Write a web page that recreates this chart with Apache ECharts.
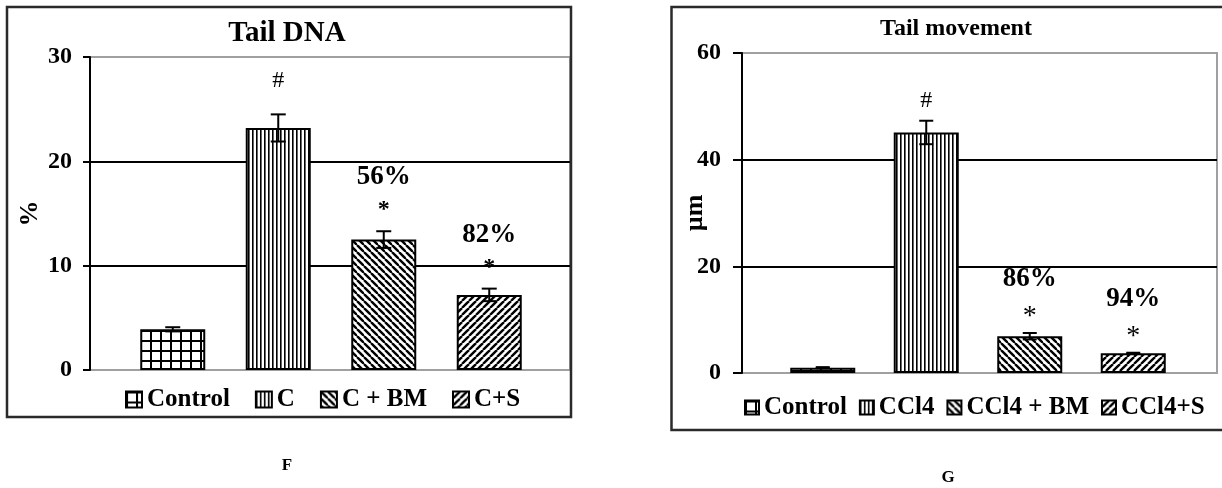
<!DOCTYPE html>
<html>
<head>
<meta charset="utf-8">
<script src="https://cdn.jsdelivr.net/npm/echarts@6/dist/echarts.min.js"></script>
<style>
  html, body { margin: 0; padding: 0; background: #fff; }
  #chart { width: 1222px; height: 488px; }
</style>
</head>
<body>
<div id="chart"></div>
<script>
// Comet assay results: tail DNA (%) and tail movement (µm), mean ± error

// Panel F: tail DNA
const dnaGroups = ['Control', 'C', 'C + BM', 'C+S'];
const dnaMeans = [3.9, 23.2, 12.5, 7.2];
const dnaErrors = [0.2, 1.3, 0.8, 0.6];
const dnaMarks = ['', '#', '*', '*'];
const dnaReduction = ['', '', '56%', '82%'];
const dnaTicks = [0, 10, 20, 30];

// Panel G: tail movement
const moveGroups = ['Control', 'CCl4', 'CCl4 + BM', 'CCl4+S'];
const moveMeans = [1.0, 45.1, 6.9, 3.7];
const moveErrors = [0.1, 2.2, 0.6, 0.1];
const moveMarks = ['', '#', '*', '*'];
const moveReduction = ['', '', '86%', '94%'];
const moveTicks = [0, 20, 40, 60];

const SERIF = '"Liberation Serif", "Times New Roman", serif';

// Hatch fills built on small tiles
function tile(w, h, draw) {
  const c = document.createElement('canvas');
  c.width = w; c.height = h;
  const g = c.getContext('2d');
  g.fillStyle = '#fff'; g.fillRect(0, 0, w, h);
  g.fillStyle = '#000'; g.strokeStyle = '#000';
  draw(g, w, h);
  return { image: c, repeat: 'repeat' };
}
const patGrid = tile(10, 10, g => { g.fillRect(0, 0, 10, 2); g.fillRect(0, 0, 2, 10); });
const patVert = tile(4, 4, g => { g.fillRect(0, 0, 1.6, 4); });
const patBack = tile(7, 7, g => {
  g.lineWidth = 2.4;
  [-7, 0, 7].forEach(o => { g.beginPath(); g.moveTo(o, 0); g.lineTo(o + 7, 7); g.stroke(); });
});
const patFwd = tile(7, 7, g => {
  g.lineWidth = 2.4;
  [-7, 0, 7].forEach(o => { g.beginPath(); g.moveTo(o, 7); g.lineTo(o + 7, 0); g.stroke(); });
});
const patterns = [patGrid, patVert, patBack, patFwd];

function barSeries(names, means, axisIdx) {
  return names.map((n, i) => ({
    type: 'bar', name: n, xAxisIndex: axisIdx, yAxisIndex: axisIdx,
    data: means.map((v, j) => (j === i ? v : '-')),
    barWidth: 65, barGap: '-100%',
    itemStyle: { color: patterns[i], borderColor: '#000', borderWidth: 2 },
    silent: true
  }));
}

function errorSeries(means, errors, marks, reductions, axisIdx, cfg) {
  return {
    type: 'custom', xAxisIndex: axisIdx, yAxisIndex: axisIdx, z: 5, silent: true,
    data: means.map((m, i) => [i, m, errors[i]]),
    renderItem(params, api) {
      const i = api.value(0), m = api.value(1), e = api.value(2);
      const top = api.coord([i, m + e]);
      const bot = api.coord([i, m - e]);
      const x = top[0], hw = cfg.cap / 2;
      const ln = (x1, y1, x2, y2) => ({
        type: 'line', shape: { x1, y1, x2, y2 }, style: { stroke: '#000', lineWidth: 2 }
      });
      const children = [
        ln(x, top[1], x, bot[1]),
        ln(x - hw, top[1], x + hw, top[1]),
        ln(x - hw, bot[1], x + hw, bot[1])
      ];
      const mk = marks[params.dataIndex];
      if (mk) {
        const isHash = mk === '#';
        children.push({
          type: 'text',
          style: {
            text: mk, x, y: top[1] - (isHash ? cfg.hash : cfg.star),
            align: 'center', verticalAlign: 'middle', fill: '#000',
            font: (isHash ? cfg.hashFont : cfg.starFont) + ' ' + SERIF
          }
        });
      }
      const rd = reductions[params.dataIndex];
      if (rd) {
        children.push({
          type: 'text',
          style: {
            text: rd, x, y: top[1] - cfg.pct,
            align: 'center', verticalAlign: 'middle', fill: '#000',
            font: 'bold 27px ' + SERIF
          }
        });
      }
      return { type: 'group', children };
    }
  };
}

function valueAxis(gridIndex, ticks, visible, name, nameGap, labelMargin, tickLen) {
  const base = {
    type: 'value', gridIndex,
    min: ticks[0], max: ticks[ticks.length - 1], interval: ticks[1] - ticks[0]
  };
  if (!visible) return Object.assign(base, { show: false, splitLine: { show: false } });
  return Object.assign(base, {
    name, nameLocation: 'middle', nameGap, nameRotate: 90, nameMoveOverlap: false,
    nameTextStyle: { fontFamily: SERIF, fontWeight: 'bold', fontSize: 26, color: '#000' },
    axisLine: { show: true, lineStyle: { color: '#000', width: 2 } },
    axisTick: { show: true, length: tickLen, lineStyle: { color: '#000', width: 2 } },
    axisLabel: { margin: labelMargin, fontFamily: SERIF, fontWeight: 'bold', fontSize: 24, color: '#000' },
    splitLine: { show: true, lineStyle: { color: ['#a0a0a0', '#000', '#000', '#a0a0a0'], width: 2 } }
  });
}

function catAxis(gridIndex, cats) {
  return { type: 'category', gridIndex, data: cats, show: false };
}

const legendText = { fontFamily: SERIF, fontWeight: 'bold', fontSize: 25, color: '#000' };

const option = {
  animation: false,
  backgroundColor: '#fff',
  grid: [
    { left: 90, top: 57, width: 480, height: 313, show: true, borderColor: '#a0a0a0', borderWidth: 2 },
    { left: 120, top: 57, width: 422, height: 313 },
    { left: 742, top: 53, width: 475, height: 320, show: true, borderColor: '#a0a0a0', borderWidth: 2 },
    { left: 771, top: 53, width: 414, height: 320 }
  ],
  xAxis: [
    catAxis(0, dnaGroups), catAxis(1, dnaGroups),
    catAxis(2, moveGroups), catAxis(3, moveGroups)
  ],
  yAxis: [
    valueAxis(0, dnaTicks, true, '%', 47, 18, 7),
    valueAxis(1, dnaTicks, false),
    valueAxis(2, moveTicks, true, 'µm', 34, 21, 9),
    valueAxis(3, moveTicks, false)
  ],
  legend: [
    {
      data: dnaGroups, left: 120, top: 382, icon: 'rect',
      itemWidth: 16, itemHeight: 16, itemGap: 25, selectedMode: false, textStyle: legendText
    },
    {
      data: moveGroups, left: 739, top: 390, icon: 'rect',
      itemWidth: 14, itemHeight: 14, itemGap: 12, selectedMode: false, textStyle: legendText
    }
  ],
  series: [
    ...barSeries(dnaGroups, dnaMeans, 1),
    ...barSeries(moveGroups, moveMeans, 3),
    errorSeries(dnaMeans, dnaErrors, dnaMarks, dnaReduction, 1,
      { cap: 15, hash: 34, star: 21, pct: 54, hashFont: '24px', starFont: 'bold 24px' }),
    errorSeries(moveMeans, moveErrors, moveMarks, moveReduction, 3,
      { cap: 14, hash: 20, star: 16, pct: 54, hashFont: '24px', starFont: '28px' })
  ],
  graphic: [
    { type: 'rect', shape: { x: 7, y: 7, width: 564, height: 410 }, style: { fill: 'none', stroke: '#2a2a2a', lineWidth: 2.5 }, z: 10, silent: true },
    { type: 'rect', shape: { x: 671.5, y: 7, width: 600, height: 423 }, style: { fill: 'none', stroke: '#2a2a2a', lineWidth: 2.5 }, z: 10, silent: true },
    { type: 'text', x: 287, y: 34, style: { text: 'Tail DNA', align: 'center', verticalAlign: 'middle', font: 'bold 29px ' + SERIF, fill: '#000' } },
    { type: 'text', x: 956, y: 29, style: { text: 'Tail movement', align: 'center', verticalAlign: 'middle', font: 'bold 24px ' + SERIF, fill: '#000' } },
    { type: 'text', x: 287, y: 466, style: { text: 'F', align: 'center', verticalAlign: 'middle', font: 'bold 17px ' + SERIF, fill: '#000' } },
    { type: 'text', x: 948, y: 478, style: { text: 'G', align: 'center', verticalAlign: 'middle', font: 'bold 17px ' + SERIF, fill: '#000' } }
  ]
};

const chart = echarts.init(document.getElementById('chart'), null, { renderer: 'canvas' });
chart.setOption(option);
</script>
</body>
</html>
